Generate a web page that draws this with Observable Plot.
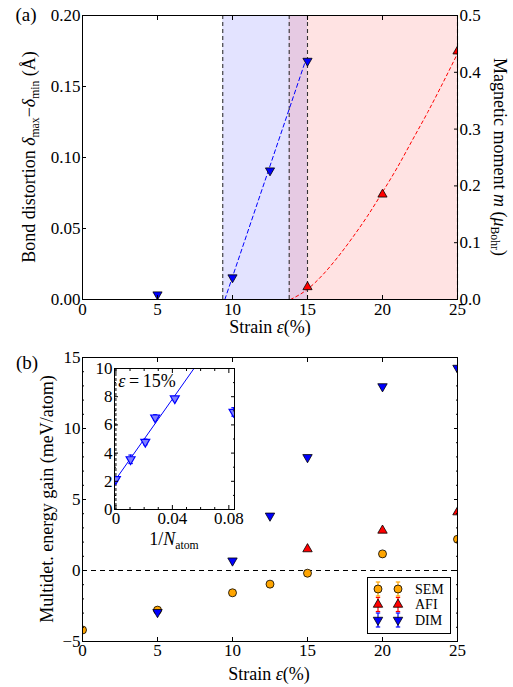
<!DOCTYPE html>
<html><head><meta charset="utf-8">
<script src="https://cdn.jsdelivr.net/npm/d3@7"></script>
<script src="https://cdn.jsdelivr.net/npm/@observablehq/plot@0.6"></script>
<style>
body{margin:0;background:#fff;}
#root{position:relative;width:513px;height:687px;font-family:"Liberation Serif",serif;color:#000;overflow:hidden;background:#fff}
#root > svg{position:absolute;}
.lbl{position:absolute;font-size:18px;white-space:nowrap;line-height:1}
.rotL{transform:translate(-50%,-50%) rotate(-90deg);}
.rotR{transform:translate(-50%,-50%) rotate(90deg);}
.ctr{transform:translate(-50%,-50%);}
sub{font-size:65%;vertical-align:-0.3em;line-height:0}
#legend{position:absolute;left:367px;top:577px;width:82px;height:55px;border:1px solid #000;background:#fff;}
#legend svg{position:absolute;left:0;top:0}
</style></head><body><div id="root"></div>
<script>
// ---------- Data: panel (a) ----------
const strainDist = [5, 10, 12.5, 15];
const bondDist = [0.0035, 0.0155, 0.0908, 0.168];
const strainMag = [15, 20, 25];
const magMoment = [0.022, 0.185, 0.437];
const distFitX = [9.49, 14.8];
const distFitY = [0, 0.166];
const magFitX = [13.87, 15, 16, 17, 18, 19, 20, 21, 22, 23, 24, 25];
const magFitY = [0, 0.018, 0.043, 0.074, 0.109, 0.147, 0.189, 0.233, 0.281, 0.329, 0.38, 0.433];
const phaseBounds = [9.35, 13.78, 15, 25];
const regionStart = [9.35, 13.78];
const regionEnd = [15, 25];
const regionColor = ["blue", "red"];
const ticksAX = [0, 5, 10, 15, 20, 25];
const ticksAY = [0, 0.05, 0.1, 0.15, 0.2];
const ticksAMag = [0, 0.1, 0.2, 0.3, 0.4, 0.5];

// ---------- Data: panel (b) ----------
const strainSEM = [0, 5, 10, 12.5, 15, 20, 25];
const gainSEM = [-4.19, -2.79, -1.57, -0.96, -0.19, 1.17, 2.2];
const strainAFI = [15, 20, 25];
const gainAFI = [1.51, 2.82, 4.11];
const strainDIM = [5, 10, 12.5, 15, 20, 25];
const gainDIM = [-2.94, 0.69, 3.85, 7.97, 12.96, 14.26];
const ticksBY = [-5, 0, 5, 10, 15];
const minorBY = d3.range(-5, 16);
const legendNames = ["SEM", "AFI", "DIM"];
const legendColors = ["orange", "red", "blue"];

// ---------- Data: inset ----------
const invN = [0, 0.0104, 0.0208, 0.0278, 0.0417, 0.0833];
const insetGain = [2.15, 3.56, 4.79, 6.52, 7.87, 6.92];
const insetErr = [0.15, 0.3, 0.2, 0.2, 0.15, 0.3];
const insetFitX = [0, 0.0553];
const insetFitY = [2.15, 10];
const ticksCX = [0, 0.04, 0.08];
const minorCX = [0.01, 0.02, 0.03, 0.05, 0.06, 0.07];
const ticksCY = [0, 2, 4, 6, 8, 10];
const minorCY = [1, 3, 5, 7, 9];

// ---------- helpers ----------
const FONT = '"Liberation Serif", serif';
const sq3 = Math.sqrt(3);
const triDown = {draw(ctx, size) { const h = Math.sqrt(size / (sq3 * 3)); ctx.moveTo(0, 2*h); ctx.lineTo(sq3*h, -h); ctx.lineTo(-sq3*h, -h); ctx.closePath(); }};
const triUp = {draw(ctx, size) { const h = Math.sqrt(size / (sq3 * 3)); ctx.moveTo(0, -2*h); ctx.lineTo(sq3*h, h); ctx.lineTo(-sq3*h, h); ctx.closePath(); }};
const cap = {draw(ctx, size) { const w = Math.sqrt(size / Math.PI); ctx.moveTo(-w, 0); ctx.lineTo(w, 0); }};
const zip = (xs, ys) => xs.map((x, i) => ({x, y: ys[i]}));
const minus = d => d < 0 ? "\u2212" + (-d) : String(d);
const blank = () => "";
const baseStyle = {background: "transparent", fontFamily: FONT, fontSize: "17px", overflow: "visible", color: "black"};
const root = document.getElementById("root");

// ---------- Panel (a) ----------
const ratio = 0.2 / 0.5; // left-axis units per magnetic-moment unit
const regions = regionStart.map((s, i) => ({x1: s, x2: regionEnd[i], c: regionColor[i]}));
const A = Plot.plot({
  width: 513, height: 335,
  marginLeft: 82, marginRight: 56, marginTop: 15, marginBottom: 36,
  style: baseStyle,
  x: {domain: [0, 25], axis: null, label: null},
  y: {domain: [0, 0.2], axis: null, label: null},
  marks: [
    Plot.rect(regions, {x1: "x1", x2: "x2", fill: "c", fillOpacity: 0.11}),
    Plot.ruleX(phaseBounds, {stroke: "#333", strokeDasharray: "4,3", strokeWidth: 1.1}),
    Plot.line(zip(distFitX, distFitY), {x: "x", y: "y", stroke: "blue", strokeDasharray: "4,3", strokeWidth: 1}),
    Plot.line(zip(magFitX, magFitY.map(v => v * ratio)), {x: "x", y: "y", stroke: "red", strokeDasharray: "3,3", strokeWidth: 1, curve: "monotone-x", clip: true}),
    Plot.dot(zip(strainDist, bondDist), {x: "x", y: "y", symbol: triDown, r: 3.4, fill: "blue", stroke: "black", strokeWidth: 0.8, clip: true}),
    Plot.dot(zip(strainMag, magMoment.map(v => v * ratio)), {x: "x", y: "y", symbol: triUp, r: 3.4, fill: "red", stroke: "black", strokeWidth: 0.8, clip: true}),
    Plot.axisX(ticksAX, {anchor: "bottom", tickSize: -4, tickFormat: blank, label: null}),
    Plot.axisX(ticksAX, {anchor: "top", tickSize: -4, tickFormat: blank, label: null}),
    Plot.axisX(ticksAX, {anchor: "bottom", tickSize: 0, tickPadding: 3, fontSize: 17, label: null}),
    Plot.axisY(ticksAY, {anchor: "left", tickSize: -4, tickFormat: blank, label: null}),
    Plot.axisY(ticksAY, {anchor: "left", tickSize: 0, tickPadding: 2, fontSize: 17, tickFormat: d3.format(".2f"), label: null}),
    Plot.axisY(ticksAMag.map(v => v * ratio), {anchor: "right", tickSize: -4, tickFormat: blank, label: null}),
    Plot.axisY(ticksAMag.map(v => v * ratio), {anchor: "right", tickSize: 0, tickPadding: 2, fontSize: 17, tickFormat: d => (d / ratio).toFixed(1), label: null}),
    Plot.frame({stroke: "black", strokeWidth: 1})
  ]
});
A.style.left = "0px"; A.style.top = "0px";
root.appendChild(A);

// ---------- Panel (b) ----------
const B = Plot.plot({
  width: 513, height: 347,
  marginLeft: 82, marginRight: 56, marginTop: 17, marginBottom: 46,
  style: baseStyle,
  x: {domain: [0, 25], axis: null, label: null},
  y: {domain: [-5, 15], axis: null, label: null},
  marks: [
    Plot.ruleY([0], {stroke: "black", strokeDasharray: "5,4", strokeWidth: 1}),
    Plot.dot(zip(strainSEM, gainSEM), {x: "x", y: "y", r: 4, fill: "orange", stroke: "black", strokeWidth: 0.8, clip: true}),
    Plot.dot(zip(strainAFI, gainAFI), {x: "x", y: "y", symbol: triUp, r: 3.5, fill: "red", stroke: "black", strokeWidth: 0.8, clip: true}),
    Plot.dot(zip(strainDIM, gainDIM), {x: "x", y: "y", symbol: triDown, r: 3.5, fill: "blue", stroke: "black", strokeWidth: 0.8, clip: true}),
    Plot.axisX(ticksAX, {anchor: "bottom", tickSize: -4, tickFormat: blank, label: null}),
    Plot.axisX(ticksAX, {anchor: "top", tickSize: -4, tickFormat: blank, label: null}),
    Plot.axisX(ticksAX, {anchor: "bottom", tickSize: 0, tickPadding: 2, fontSize: 17, label: null}),
    Plot.axisY(ticksBY, {anchor: "left", tickSize: -4, tickFormat: blank, label: null}),
    Plot.axisY(ticksBY, {anchor: "right", tickSize: -4, tickFormat: blank, label: null}),
    Plot.axisY(minorBY, {anchor: "left", tickSize: -2, tickFormat: blank, label: null}),
    Plot.axisY(minorBY, {anchor: "right", tickSize: -2, tickFormat: blank, label: null}),
    Plot.axisY(ticksBY, {anchor: "left", tickSize: 0, tickPadding: 2, fontSize: 17, tickFormat: minus, label: null}),
    Plot.frame({stroke: "black", strokeWidth: 1})
  ]
});
B.style.left = "0px"; B.style.top = "340px";
root.appendChild(B);

// ---------- Inset ----------
const insetPts = invN.map((x, i) => ({x, y: insetGain[i], lo: insetGain[i] - insetErr[i], hi: insetGain[i] + insetErr[i]}));
const C = Plot.plot({
  width: 160, height: 185,
  marginLeft: 30, marginRight: 10, marginTop: 13, marginBottom: 31,
  style: baseStyle,
  x: {domain: [-0.001, 0.084], axis: null, label: null},
  y: {domain: [0, 10], axis: null, label: null},
  marks: [
    Plot.frame({fill: "white"}),
    Plot.ruleX([0], {stroke: "black", strokeDasharray: "3,2", strokeWidth: 1}),
    Plot.line(zip(insetFitX, insetFitY), {x: "x", y: "y", stroke: "blue", strokeWidth: 1}),
    Plot.ruleX(insetPts, {x: "x", y1: "lo", y2: "hi", stroke: "blue", strokeWidth: 1.2, clip: true}),
    Plot.dot(insetPts, {x: "x", y: "lo", symbol: cap, r: 2.2, stroke: "blue", strokeWidth: 1.2, clip: true}),
    Plot.dot(insetPts, {x: "x", y: "hi", symbol: cap, r: 2.2, stroke: "blue", strokeWidth: 1.2, clip: true}),
    Plot.dot(insetPts, {x: "x", y: "y", symbol: triDown, r: 3.3, fill: "#7f7fff", stroke: "blue", strokeWidth: 1.2, clip: true}),
    Plot.axisX(ticksCX, {anchor: "bottom", tickSize: -4, tickFormat: blank, label: null}),
    Plot.axisX(ticksCX, {anchor: "top", tickSize: -4, tickFormat: blank, label: null}),
    Plot.axisX(minorCX, {anchor: "bottom", tickSize: -2, tickFormat: blank, label: null}),
    Plot.axisX(minorCX, {anchor: "top", tickSize: -2, tickFormat: blank, label: null}),
    Plot.axisY(ticksCY, {anchor: "left", tickSize: -4, tickFormat: blank, label: null}),
    Plot.axisY(ticksCY, {anchor: "right", tickSize: -4, tickFormat: blank, label: null}),
    Plot.axisY(minorCY, {anchor: "left", tickSize: -2, tickFormat: blank, label: null}),
    Plot.axisY(minorCY, {anchor: "right", tickSize: -2, tickFormat: blank, label: null}),
    Plot.axisX(ticksCX, {anchor: "bottom", tickSize: 0, tickPadding: 2, fontSize: 17, tickFormat: d => d === 0 ? "0" : d.toFixed(2), label: null}),
    Plot.axisY(ticksCY, {anchor: "left", tickSize: 0, tickPadding: 2, fontSize: 17, label: null}),
    Plot.frame({stroke: "black", strokeWidth: 1})
  ]
});
C.style.left = "84px"; C.style.top = "355px";
root.appendChild(C);

// ---------- Legend ----------
const leg = document.createElement("div");
leg.id = "legend";
const ns = "http://www.w3.org/2000/svg";
const lsvg = document.createElementNS(ns, "svg");
lsvg.setAttribute("width", 82); lsvg.setAttribute("height", 55);
const legSymbols = [d3.symbol(d3.symbolCircle, Math.PI * 16)(), d3.symbol(triUp, Math.PI * 12.25)(), d3.symbol(triDown, Math.PI * 12.25)()];
legendNames.forEach((name, i) => {
  const cy = 11 + i * 15.5;
  [10, 30].forEach(cx => {
    const g = document.createElementNS(ns, "g");
    g.setAttribute("transform", `translate(${cx},${cy})`);
    g.innerHTML = `<line x1="0" y1="-7" x2="0" y2="7" stroke="${legendColors[i]}" stroke-width="1.2"/>` +
      `<line x1="-2.2" y1="-7" x2="2.2" y2="-7" stroke="${legendColors[i]}" stroke-width="1.2"/>` +
      `<line x1="-2.2" y1="7" x2="2.2" y2="7" stroke="${legendColors[i]}" stroke-width="1.2"/>` +
      `<path d="${legSymbols[i]}" fill="${legendColors[i]}" stroke="black" stroke-width="0.8"/>`;
    lsvg.appendChild(g);
  });
  const t = document.createElementNS(ns, "text");
  t.setAttribute("x", 47); t.setAttribute("y", cy); t.setAttribute("dy", "0.35em");
  t.setAttribute("font-family", FONT); t.setAttribute("font-size", 14);
  t.textContent = name;
  lsvg.appendChild(t);
});
leg.appendChild(lsvg);
root.appendChild(leg);

// ---------- Text labels ----------
function label(html, x, y, cls, size) {
  const d = document.createElement("div");
  d.className = "lbl " + cls;
  d.style.left = x + "px"; d.style.top = y + "px";
  if (size) d.style.fontSize = size + "px";
  d.innerHTML = html;
  root.appendChild(d);
}
label("(a)", 26, 14, "ctr", 19);
label("(b)", 27, 362, "ctr", 19);
label("Bond distortion <i>δ</i><sub>max</sub>\u2212<i>δ</i><sub>min</sub> (Å)", 29, 157, "rotL", 18);
label("Magnetic moment <i>m</i> (<i>μ</i><sub>Bohr</sub>)", 500, 157, "rotR", 18);
label("Strain <i>ε</i>(%)", 270, 327, "ctr", 18);
label("Multidet. energy gain (meV/atom)", 47, 499, "rotL", 18);
label("Strain <i>ε</i>(%)", 269, 674, "ctr", 18);
label("1/<i>N</i><sub>atom</sub>", 174, 539, "ctr", 18);
label("<i>ε</i>\u2009=\u200915%", 147, 381, "ctr", 18);
</script></body></html>
